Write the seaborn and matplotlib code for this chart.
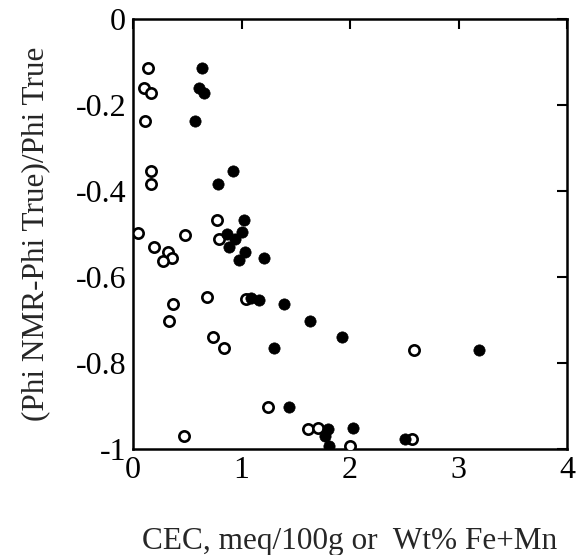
import matplotlib
matplotlib.use("Agg")
import matplotlib.pyplot as plt
import seaborn as sns
import pandas as pd

open_x = [0.14, 0.10, 0.17, 0.11, 0.17, 0.17, 0.77, 0.05, 0.48, 0.795, 0.19, 0.32, 0.355,
          0.275, 0.68, 1.04, 0.37, 0.33, 0.74, 0.84, 2.59, 1.24, 0.47, 1.61, 1.70, 2.00, 2.57]
open_y = [-0.115, -0.161, -0.172, -0.238, -0.354, -0.384, -0.467, -0.498, -0.502, -0.512,
          -0.531, -0.543, -0.557, -0.562, -0.646, -0.651, -0.664, -0.703, -0.740, -0.766,
          -0.769, -0.903, -0.970, -0.954, -0.951, -0.992, -0.977]

filled_x = [0.64, 0.61, 0.65, 0.57, 0.92, 0.78, 1.02, 0.87, 0.94, 1.00, 0.88, 1.03, 0.98,
            1.21, 1.09, 1.16, 1.39, 1.63, 1.93, 1.30, 1.44, 2.03, 1.80, 1.77, 1.81, 2.51, 3.19]
filled_y = [-0.115, -0.161, -0.172, -0.238, -0.354, -0.384, -0.467, -0.500, -0.512, -0.496,
            -0.531, -0.541, -0.560, -0.555, -0.649, -0.653, -0.664, -0.703, -0.740, -0.766,
            -0.903, -0.951, -0.954, -0.969, -0.992, -0.977, -0.769]

x_ticks = [0, 1, 2, 3, 4]
y_ticks = [0, -0.2, -0.4, -0.6, -0.8, -1]
y_tick_labels = ["0", "-0.2", "-0.4", "-0.6", "-0.8", "-1"]

sns.set_style("white")
plt.rcParams["font.family"] = ["Liberation Serif", "DejaVu Serif"]

fig = plt.figure(figsize=(5.81, 5.55), dpi=100)
ax = fig.add_axes([0.229, 0.191, 0.747, 0.775])

df_open = pd.DataFrame({"x": open_x, "y": open_y})
df_filled = pd.DataFrame({"x": filled_x, "y": filled_y})

sns.scatterplot(data=df_open, x="x", y="y", ax=ax, s=55, facecolor="white",
                edgecolor="black", linewidth=1.9, zorder=3)
sns.scatterplot(data=df_filled, x="x", y="y", ax=ax, s=66, color="black",
                edgecolor="black", linewidth=0.5, zorder=4)

ax.set_xlim(0, 4)
ax.set_ylim(-1, 0)
ax.set_xticks(x_ticks)
ax.set_xticklabels([str(t) for t in x_ticks])
ax.set_yticks(y_ticks)
ax.set_yticklabels(y_tick_labels)
ax.tick_params(direction="in", length=7, width=1.5, top=True, right=True,
               labelsize=23, colors="black", pad=5)
for sp in ax.spines.values():
    sp.set_linewidth(1.8)
    sp.set_color("black")

ax.set_xlabel("CEC, meq/100g or  Wt% Fe+Mn", fontsize=22.5, labelpad=30)
ax.set_ylabel("(Phi NMR-Phi True)/Phi True", fontsize=22.5, labelpad=18)

fig.savefig("out.png", dpi=100)
